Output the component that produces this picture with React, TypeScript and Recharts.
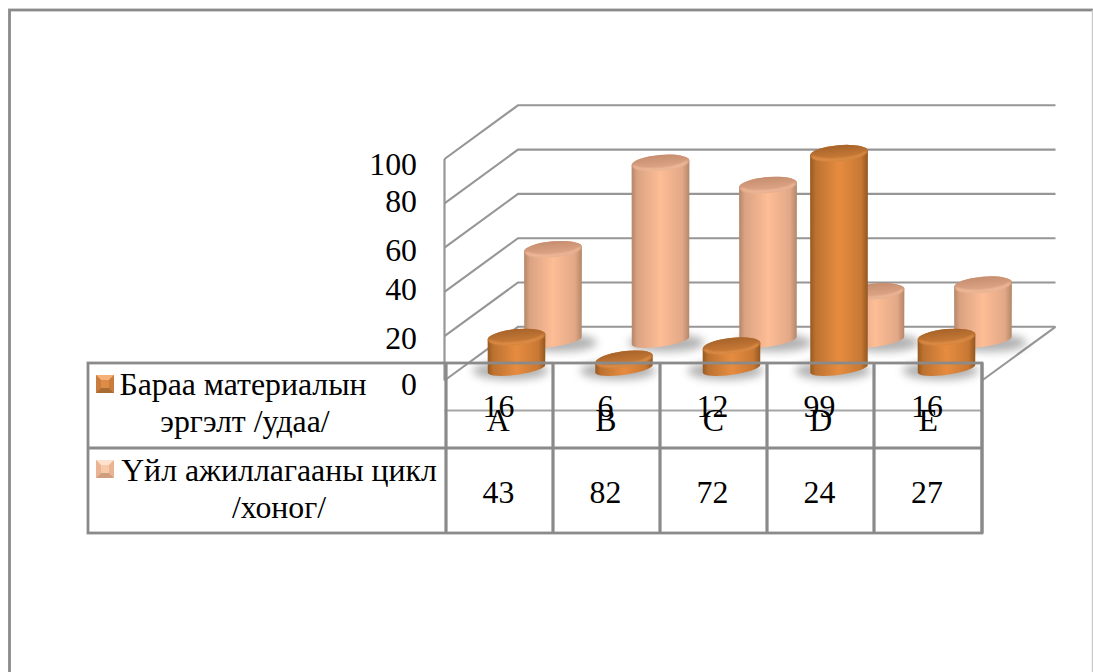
import React from "react";
import { BarChart, Bar, XAxis, YAxis, CartesianGrid } from "recharts";

const categories = ["A", "B", "C", "D", "E"];
const turnoverValues = [16, 6, 12, 99, 16];
const cycleValues = [43, 82, 72, 24, 27];
const valueTicks = [0, 20, 40, 60, 80, 100];
const turnoverLegend = ["Бараа материалын", "эргэлт /удаа/"];
const cycleLegend = ["Үйл ажиллагааны цикл", "/хоног/"];

const rows = categories.map((name, i) => ({
  name,
  turnover: turnoverValues[i],
  cycle: cycleValues[i],
}));

const W = 1093;
const H = 672;
const GRAY = "#8a8a8a";
const WALL = "#969696";
const FONT = "'Liberation Serif', 'Times New Roman', serif";
const FONT_SIZE = 31.8;
const WALL_DX = 73.5;
const WALL_DY = 53.7;
const COLUMN_X = [446, 553, 660, 767, 874, 982];

// Label baselines drift a little around their gridlines on this axis.
const TICK_NUDGE: Record<number, number> = { 0: 14.5, 20: 12.5, 40: 8, 60: 13, 80: 8.5, 100: 15.5 };

const rotated = (cx: number, cy: number, r: number, deg: number, side: number) => {
  const a = (deg * Math.PI) / 180;
  return [cx + side * r * Math.cos(a), cy - side * r * Math.sin(a)];
};

function Cylinder(props: any) {
  const { x, y, width, height, shiftX, shiftY, body, lid, rim, shadowShift } = props;
  const cx = x + width / 2 + shiftX;
  const r = width / 2;
  const floor = y + height;
  const topY = y - 8 + shiftY;
  const baseY = floor - 11.7 + shiftY;
  const lidTilt = Math.max(5, 9 - height / 10);
  const baseTilt = 8;
  const lidRy = 8;
  const baseRy = 6;
  const [tlx, tly] = rotated(cx, topY, r, lidTilt, -1);
  const [trx, try_] = rotated(cx, topY, r, lidTilt, 1);
  const [blx, bly] = rotated(cx, baseY, r, baseTilt, -1);
  const [brx, bry] = rotated(cx, baseY, r, baseTilt, 1);
  const side = `M${tlx},${tly} L${blx},${bly} A${r},${baseRy} ${-baseTilt} 0 0 ${brx},${bry} L${trx},${try_} A${r},${lidRy} ${-lidTilt} 0 0 ${tlx},${tly} Z`;
  const lidFront = `M${tlx + 2},${tly + 1} A${r},${lidRy} ${-lidTilt} 0 0 ${trx - 2},${try_ + 1}`;
  return (
    <g>
      <ellipse
        cx={cx + shadowShift}
        cy={baseY + 2}
        rx={r + 9}
        ry={9}
        fill="#666"
        opacity={0.5}
        style={{ filter: "blur(4px)" }}
      />
      <path d={side} fill={`url(#${body})`} />
      <ellipse
        cx={cx}
        cy={topY}
        rx={r}
        ry={lidRy}
        fill={`url(#${lid})`}
        transform={`rotate(${-lidTilt} ${cx} ${topY})`}
      />
      <path d={lidFront} fill="none" stroke={rim} strokeWidth={1.5} style={{ filter: "blur(0.8px)" }} />
    </g>
  );
}

function BevelIcon({ x, y, mid, top, sideTone, bottom }: any) {
  const s = 18;
  const b = 5;
  return (
    <g style={{ filter: "blur(0.4px)" }}>
      <rect x={x} y={y} width={s} height={s} fill={mid} />
      <polygon points={`${x},${y} ${x + s},${y} ${x + s - b},${y + b} ${x + b},${y + b}`} fill={top} />
      <polygon points={`${x},${y} ${x + b},${y + b} ${x + b},${y + s - b} ${x},${y + s}`} fill={sideTone} />
      <polygon points={`${x + s},${y} ${x + s - b},${y + b} ${x + s - b},${y + s - b} ${x + s},${y + s}`} fill={sideTone} />
      <polygon points={`${x},${y + s} ${x + s},${y + s} ${x + s - b},${y + s - b} ${x + b},${y + s - b}`} fill={bottom} />
    </g>
  );
}

function wallLine(line: any) {
  const { x1, x2, y1 } = line;
  const bx = x1 + WALL_DX;
  const by = y1 - WALL_DY;
  const points = `${x1},${y1} ${bx},${by} ${x2 + WALL_DX},${by}`;
  const isFloor = y1 > 370;
  return (
    <g key={`wall-${y1}`}>
      <polyline points={points} fill="none" stroke={WALL} strokeWidth={2.1} />
      {isFloor && <line x1={x2} y1={y1} x2={x2 + WALL_DX} y2={by} stroke={WALL} strokeWidth={2.1} />}
    </g>
  );
}

function ValueTick({ y, payload }: any) {
  return (
    <text x={417} y={y + (TICK_NUDGE[payload.value] ?? 10)} textAnchor="end" fontFamily={FONT} fontSize={FONT_SIZE} fill="#000">
      {payload.value}
    </text>
  );
}

function CategoryTick({ x, payload }: any) {
  return (
    <text x={x} y={431} textAnchor="middle" fontFamily={FONT} fontSize={FONT_SIZE} fill="#000">
      {payload.value}
    </text>
  );
}

function TableOverlay() {
  const centers = COLUMN_X.slice(0, -1).map((c, i) => (c + COLUMN_X[i + 1]) / 2 - 1);
  const textProps = { fontFamily: FONT, fontSize: FONT_SIZE, fill: "#000", textAnchor: "middle" as const };
  return (
    <svg width={W} height={H} style={{ position: "absolute", left: 0, top: 0, pointerEvents: "none" }}>
      <defs>
        <linearGradient id="bodyDark" x1="0" x2="1" y1="0" y2="0">
          <stop offset="0" stopColor="#97591f" />
          <stop offset="0.1" stopColor="#bd7231" />
          <stop offset="0.5" stopColor="#e68c40" />
          <stop offset="0.88" stopColor="#c87834" />
          <stop offset="1" stopColor="#93561f" />
        </linearGradient>
        <linearGradient id="bodyLight" x1="0" x2="1" y1="0" y2="0">
          <stop offset="0" stopColor="#b38667" />
          <stop offset="0.1" stopColor="#dba383" />
          <stop offset="0.5" stopColor="#fdbd95" />
          <stop offset="0.88" stopColor="#e2a887" />
          <stop offset="1" stopColor="#b38667" />
        </linearGradient>
        <linearGradient id="lidDark" x1="0" x2="0" y1="0" y2="1">
          <stop offset="0" stopColor="#a7632a" />
          <stop offset="1" stopColor="#d08039" />
        </linearGradient>
        <linearGradient id="lidLight" x1="0" x2="0" y1="0" y2="1">
          <stop offset="0" stopColor="#c68e70" />
          <stop offset="1" stopColor="#e3aa8a" />
        </linearGradient>
      </defs>

      {/* outer chart frame */}
      <rect x={9.5} y={10} width={1200} height={800} fill="none" stroke={GRAY} strokeWidth={2.8} />
      <line x1={1092.5} y1={10} x2={1092.5} y2={H} stroke="#c8c8c8" strokeWidth={1.4} />

      {/* data table grid */}
      <rect x={88} y={363} width={COLUMN_X[5] - 88} height={170} fill="none" stroke={GRAY} strokeWidth={2.8} />
      <line x1={88} y1={448} x2={COLUMN_X[5]} y2={448} stroke={GRAY} strokeWidth={2.8} />
      {COLUMN_X.map((c) => (
        <line key={c} x1={c} y1={363} x2={c} y2={533} stroke={GRAY} strokeWidth={3.2} />
      ))}

      {turnoverValues.map((v, i) => (
        <text key={`t${i}`} x={centers[i]} y={416.5} {...textProps}>{v}</text>
      ))}
      {cycleValues.map((v, i) => (
        <text key={`c${i}`} x={centers[i]} y={502.5} {...textProps}>{v}</text>
      ))}

      <BevelIcon x={96} y={375} mid="#dd8c48" top="#f4b27a" sideTone="#c97c3c" bottom="#a96a34" />
      <BevelIcon x={96} y={460} mid="#f6caa8" top="#fde3cf" sideTone="#eab492" bottom="#cf9e80" />
      <text x={243} y={395} {...textProps}>{turnoverLegend[0]}</text>
      <text x={245} y={431.5} {...textProps}>{turnoverLegend[1]}</text>
      <text x={279} y={480.5} {...textProps}>{cycleLegend[0]}</text>
      <text x={279} y={517.5} {...textProps}>{cycleLegend[1]}</text>
    </svg>
  );
}

export default function App() {
  return (
    <div style={{ position: "absolute", left: 0, top: 0, width: W, height: H, background: "#fff", overflow: "hidden" }}>
      <BarChart
        width={W}
        height={H}
        data={rows}
        margin={{ top: 159, right: W - 982, bottom: H - 380.5 - 70, left: 344.5 }}
      >
        <CartesianGrid horizontal={wallLine} vertical={false} stroke={WALL} />
        <XAxis
          xAxisId="front"
          dataKey="name"
          height={70}
          axisLine={{ stroke: "#a6a6a6", strokeWidth: 1.8 }}
          tickLine={false}
          tick={<CategoryTick />}
          interval={0}
        />
        <XAxis xAxisId="back" dataKey="name" hide />
        <YAxis
          domain={[0, 100]}
          ticks={valueTicks}
          width={100}
          interval={0}
          axisLine={{ stroke: WALL, strokeWidth: 2.2 }}
          tickLine={false}
          tick={<ValueTick />}
        />
        <Bar
          xAxisId="back"
          dataKey="cycle"
          barSize={58}
          isAnimationActive={false}
          shape={(p: any) => (
            <Cylinder {...p} shiftX={54.5} shiftY={-28} body="bodyLight" lid="lidLight" rim="#fbc8a8" shadowShift={6} />
          )}
        />
        <Bar
          xAxisId="front"
          dataKey="turnover"
          barSize={58}
          isAnimationActive={false}
          shape={(p: any) => (
            <Cylinder {...p} shiftX={18} shiftY={0} body="bodyDark" lid="lidDark" rim="#eb9a52" shadowShift={-6} />
          )}
        />
      </BarChart>
      <TableOverlay />
    </div>
  );
}
